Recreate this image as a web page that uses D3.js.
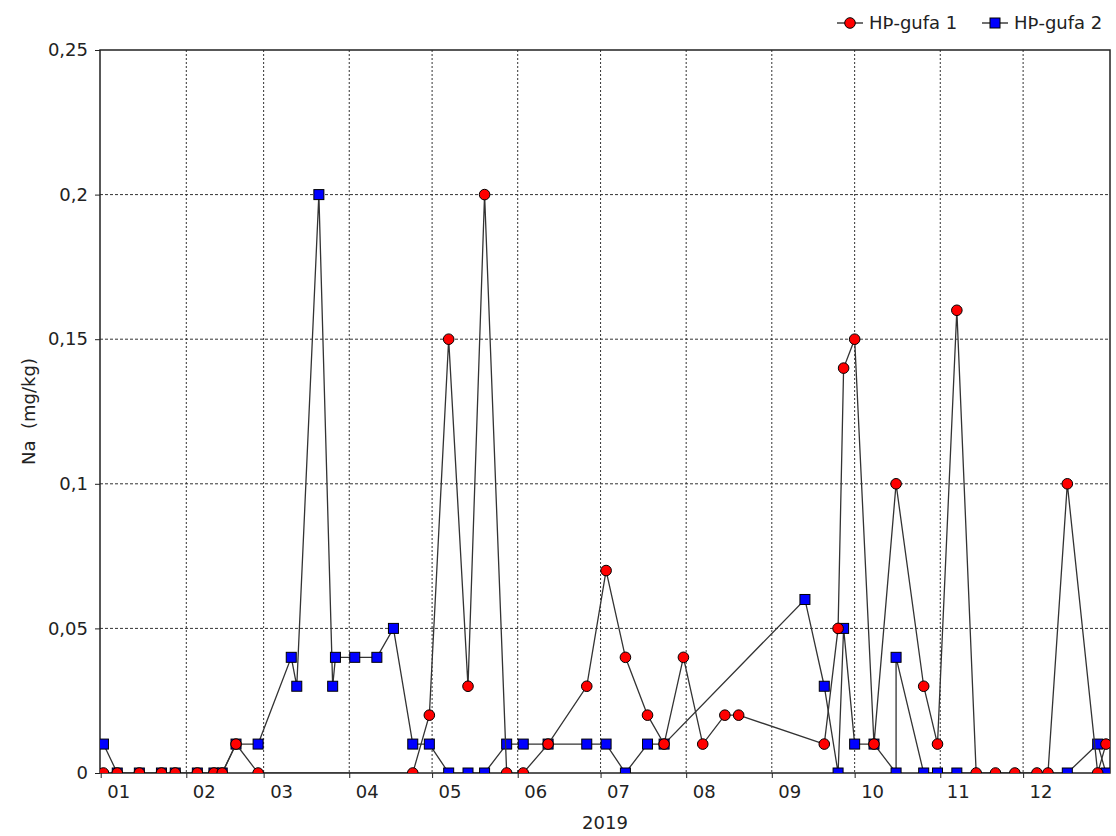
<!DOCTYPE html>
<html>
<head>
<meta charset="utf-8">
<script src="https://cdn.jsdelivr.net/npm/d3@7"></script>
<style>
    body { margin: 0; background: #fff; }
    text { font-family: "DejaVu Sans", sans-serif; fill: #222; }
</style>
</head>
<body>
<script>
    //series 1 (red circles)
    var dates1 = ['2019-01-02', '2019-01-07', '2019-01-15', '2019-01-23', '2019-01-28', '2019-02-05', '2019-02-11',
        '2019-02-14', '2019-02-19', '2019-02-27', '2019-04-24', '2019-04-30', '2019-05-07', '2019-05-14', '2019-05-20',
        '2019-05-28', '2019-06-03', '2019-06-12', '2019-06-26', '2019-07-03', '2019-07-10', '2019-07-18', '2019-07-24',
        '2019-07-31', '2019-08-07', '2019-08-15', '2019-08-20', '2019-09-20', '2019-09-25', '2019-09-27', '2019-10-01',
        '2019-10-08', '2019-10-16', '2019-10-26', '2019-10-31', '2019-11-07', '2019-11-14', '2019-11-21', '2019-11-28',
        '2019-12-06', '2019-12-10', '2019-12-17', '2019-12-28', '2019-12-31'];
    var values1 = [0, 0, 0, 0, 0, 0, 0,
        0, 0.01, 0, 0, 0.02, 0.15, 0.03, 0.2,
        0, 0, 0.01, 0.03, 0.07, 0.04, 0.02, 0.01,
        0.04, 0.01, 0.02, 0.02, 0.01, 0.05, 0.14, 0.15,
        0.01, 0.1, 0.03, 0.01, 0.16, 0, 0, 0,
        0, 0, 0.1, 0, 0.01];

    //series 2 (blue squares)
    var dates2 = ['2019-01-02', '2019-01-07', '2019-01-15', '2019-01-23', '2019-01-28', '2019-02-05', '2019-02-11',
        '2019-02-14', '2019-02-19', '2019-02-27', '2019-03-11', '2019-03-13', '2019-03-21', '2019-03-26', '2019-03-27',
        '2019-04-03', '2019-04-11', '2019-04-17', '2019-04-24', '2019-04-30', '2019-05-07', '2019-05-14', '2019-05-20',
        '2019-05-28', '2019-06-03', '2019-06-12', '2019-06-26', '2019-07-03', '2019-07-10', '2019-07-18', '2019-07-24',
        '2019-09-13', '2019-09-20', '2019-09-25', '2019-09-27', '2019-10-01', '2019-10-08', '2019-10-16', '2019-10-16',
        '2019-10-26', '2019-10-31', '2019-11-07', '2019-12-17', '2019-12-28', '2019-12-31'];
    var values2 = [0.01, 0, 0, 0, 0, 0, 0,
        0, 0.01, 0.01, 0.04, 0.03, 0.2, 0.03, 0.04,
        0.04, 0.04, 0.05, 0.01, 0.01, 0, 0, 0,
        0.01, 0.01, 0.01, 0.01, 0.01, 0, 0.01, 0.01,
        0.06, 0.03, 0, 0.05, 0.01, 0.01, 0, 0.04,
        0, 0, 0, 0, 0.01, 0];

    var seriesNames = ['H\u00de-gufa 1', 'H\u00de-gufa 2'];
    var monthLabels = ['01', '02', '03', '04', '05', '06', '07', '08', '09', '10', '11', '12'];
    var yTicks = [0, 0.05, 0.1, 0.15, 0.2, 0.25];
    var xTitle = '2019',
        yTitle = 'Na  (mg/kg)';

    //setup graph size
    var margin = {top: 50, bottom: 63, right: 6, left: 100};
    var width = 1116 - margin.left - margin.right,
        height = 836 - margin.top - margin.bottom;

    var parseDate = d3.timeParse('%Y-%m-%d');
    var fmt = d3.format('.2~f');

    var xScale = d3.scaleTime()
        .domain([new Date(2018, 11, 31, 18), new Date(2020, 0, 1, 11)])
        .range([0, width]);
    var yScale = d3.scaleLinear().domain([0, 0.25]).range([height, 0]);

    var months = d3.timeMonth.range(new Date(2019, 0, 1), new Date(2020, 0, 1));

    var svg = d3.select('body').append('svg')
        .attr('width', 1116)
        .attr('height', 836);

    var g = svg.append('g')
        .attr('transform', 'translate(' + margin.left + ',' + margin.top + ')');

    g.append('clipPath').attr('id', 'plot-clip')
        .append('rect').attr('width', width).attr('height', height);

    //dashed grid
    g.selectAll('.vgrid')
        .data(months.slice(1))
        .enter().append('line')
        .attr('x1', function(d) {return xScale(d)})
        .attr('x2', function(d) {return xScale(d)})
        .attr('y1', 0).attr('y2', height)
        .attr('stroke', '#333').attr('stroke-dasharray', '2,2');

    g.selectAll('.hgrid')
        .data(yTicks.slice(1, -1))
        .enter().append('line')
        .attr('x1', 0).attr('x2', width)
        .attr('y1', function(d) {return yScale(d)})
        .attr('y2', function(d) {return yScale(d)})
        .attr('stroke', '#333').attr('stroke-dasharray', '3,2');

    //x axis: ticks at month starts, labels to the right of them
    var xAxis = d3.axisBottom(xScale)
        .tickValues(months)
        .tickSize(5)
        .tickFormat(function(d, i) {return monthLabels[i]});
    var xg = g.append('g')
        .attr('transform', 'translate(0,' + height + ')')
        .call(xAxis);
    xg.selectAll('text')
        .attr('x', 6).attr('y', 12)
        .style('text-anchor', 'start');

    var yAxis = d3.axisLeft(yScale)
        .tickValues(yTicks)
        .tickSize(5)
        .tickFormat(function(d) {return fmt(d).replace('.', ',')});
    var yg = g.append('g').call(yAxis);
    yg.selectAll('text').attr('x', -12);

    [xg, yg].forEach(function(a) {
        a.select('.domain').remove();
        a.selectAll('line').attr('stroke', '#222');
        a.selectAll('text').style('font-size', '18px').style('font-family', '"DejaVu Sans", sans-serif').attr('fill', '#222');
    });

    //frame
    g.append('rect')
        .attr('width', width).attr('height', height)
        .attr('fill', 'none').attr('stroke', '#222').attr('stroke-width', 1.5);

    var line = d3.line()
        .x(function(d) {return xScale(d.date)})
        .y(function(d) {return yScale(d.value)});

    function toRows(dates, values) {
        return dates.map(function(d, i) {return {date: parseDate(d), value: values[i]}});
    }
    var rows1 = toRows(dates1, values1),
        rows2 = toRows(dates2, values2);

    var plot = g.append('g').attr('clip-path', 'url(#plot-clip)');

    //series 2 first so the red one sits on top
    plot.append('path')
        .datum(rows2)
        .attr('d', line)
        .attr('fill', 'none').attr('stroke', '#333').attr('stroke-width', 1.3);
    plot.selectAll('.sq')
        .data(rows2)
        .enter().append('rect')
        .attr('x', function(d) {return xScale(d.date) - 5})
        .attr('y', function(d) {return yScale(d.value) - 5})
        .attr('width', 10).attr('height', 10)
        .attr('fill', '#0000ff').attr('stroke', '#000');

    plot.append('path')
        .datum(rows1)
        .attr('d', line)
        .attr('fill', 'none').attr('stroke', '#333').attr('stroke-width', 1.3);
    plot.selectAll('.dot')
        .data(rows1)
        .enter().append('circle')
        .attr('cx', function(d) {return xScale(d.date)})
        .attr('cy', function(d) {return yScale(d.value)})
        .attr('r', 5.3)
        .attr('fill', '#ff0000').attr('stroke', '#000');

    //titles
    svg.append('text')
        .attr('x', margin.left + width / 2).attr('y', 829)
        .style('text-anchor', 'middle').style('font-size', '18px')
        .text(xTitle);
    svg.append('text')
        .attr('transform', 'translate(35,' + (margin.top + height / 2) + ') rotate(-90)')
        .style('text-anchor', 'middle').style('font-size', '18px')
        .style('white-space', 'pre')
        .text(yTitle);

    //legend
    var legend = svg.append('g').attr('transform', 'translate(837,23)');
    var items = legend.selectAll('g')
        .data(seriesNames)
        .enter().append('g')
        .attr('transform', function(d, i) {return 'translate(' + (i * 145) + ',0)'});
    items.append('line')
        .attr('x1', 0).attr('x2', 26)
        .attr('stroke', '#222').attr('stroke-width', 1.3);
    items.filter(function(d, i) {return i == 0}).append('circle')
        .attr('cx', 13).attr('r', 5.3)
        .attr('fill', '#ff0000').attr('stroke', '#000');
    items.filter(function(d, i) {return i == 1}).append('rect')
        .attr('x', 8).attr('y', -5).attr('width', 10).attr('height', 10)
        .attr('fill', '#0000ff').attr('stroke', '#000');
    items.append('text')
        .attr('x', 32).attr('dy', '0.35em')
        .style('font-size', '18px')
        .text(function(d) {return d});
</script>
</body>
</html>
